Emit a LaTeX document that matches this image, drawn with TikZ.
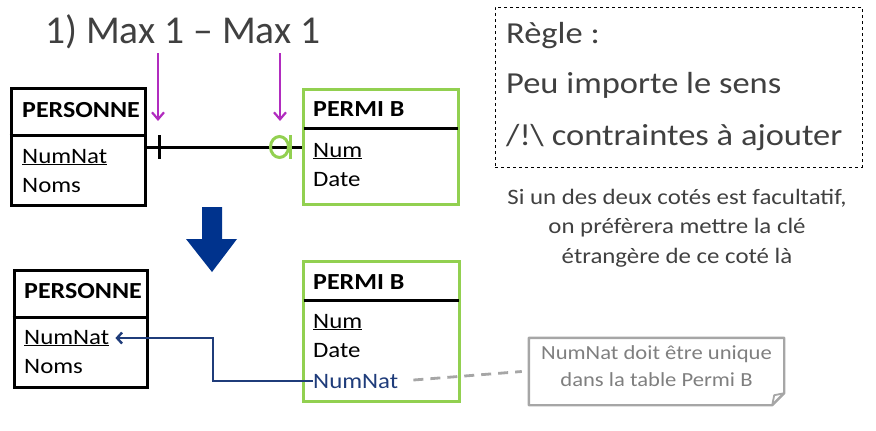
\documentclass[tikz,border=0pt]{standalone}
\usepackage{fontspec}
\setmainfont{Carlito}[FakeStretch=1.13]
\newfontfamily\titlefont{Carlito}
\usetikzlibrary{arrows.meta,calc,positioning}

\definecolor{txtgray}{HTML}{404040}
\definecolor{notegray}{HTML}{A6A6A6}
\definecolor{notetxt}{HTML}{7F7F7F}
\definecolor{limegreen}{HTML}{92D050}
\definecolor{fkblue}{HTML}{1F3C7A}
\definecolor{bigblue}{HTML}{00338D}
\definecolor{pointer}{HTML}{B12CBF}

\tikzset{
  entity/.style={draw, line width=3pt, inner sep=0pt},
  attr/.style={anchor=base west, inner sep=0pt, font=\fontsize{22}{26}\selectfont},
  head/.style={attr, font=\fontsize{23}{26}\selectfont\bfseries},
  link/.style={line width=3pt},
  pointing/.style={pointer, line width=2.2pt, -{Straight Barb[length=7pt,width=12pt,line width=2.2pt]}},
  fk/.style={fkblue, line width=2.6pt, -{Straight Barb[length=5pt,width=11pt,line width=2.4pt]}},
  gloss/.style={anchor=base, inner sep=0pt, txtgray, font=\fontsize{22}{25}\selectfont},
  rule/.style={anchor=base west, inner sep=0pt, txtgray, font=\fontsize{30.5}{34}\selectfont}
}

\begin{document}
\begin{tikzpicture}[x=1pt,y=-1pt]
  \useasboundingbox (0,0) rectangle (876,431);
  % title
  \node[anchor=base west, inner sep=0pt, txtgray, font=\titlefont\fontsize{39.5}{44}\selectfont] (title) at (45,43) {1) Max 1 – Max 1};

  % before
  \node[entity, minimum width=134pt, minimum height=117pt] (pers1) at (78,146.5) {};
  \draw[line width=3pt] (pers1.west |- 0,135) -- (pers1.east |- 0,135);
  \node[head] (pers1h) at (22,117) {PERSONNE};
  \node[attr] (pk1) at (22,163) {\underline{NumNat}};
  \node[attr] (nom1) at (22,192) {Noms};

  \node[entity, draw=limegreen, minimum width=155pt, minimum height=115pt] (permi1) at (380.5,146.5) {};
  \draw[line width=3pt] ([xshift=2pt]permi1.west |- 0,128) -- ([xshift=-2pt]permi1.east |- 0,128);
  \node[head] (permi1h) at (313,116) {PERMI B};
  \node[attr] (num1) at (313,157) {\underline{Num}};
  \node[attr] (date1) at (313,186) {Date};

  \draw[link] (pers1.east |- 0,147) coordinate (l1) -- (permi1.west |- 0,147) coordinate (l2);
  \draw[link] ([xshift=13pt]l1) ++(0,-12) -- ++(0,24);
  \draw[link, limegreen] ([xshift=-11pt]l2) ++(0,-12) -- ++(0,24);
  \draw[link, limegreen] ([xshift=-22pt]l2) circle[x radius=9pt, y radius=10.5pt];

  \coordinate (m1) at (158,53);
  \coordinate (m2) at (280,53);
  \draw[pointing] (m1) -- ++(0,68);
  \draw[pointing] (m2) -- ++(0,68);

  % big arrow
  \fill[bigblue] (202,207) -- (222,207) -- (222,239) -- (237,239) -- (212,272) -- (186,239) -- (202,239) -- cycle;

  % after
  \node[entity, minimum width=133pt, minimum height=117pt] (pers2) at (80.5,328.5) {};
  \draw[line width=3pt] (pers2.west |- 0,317) -- (pers2.east |- 0,317);
  \node[head] (pers2h) at (24,298) {PERSONNE};
  \node[attr] (pk2) at (24,344) {\underline{NumNat}};
  \node[attr] (nom2) at (24,373) {Noms};

  \node[entity, draw=limegreen, minimum width=156pt, minimum height=140pt] (permi2) at (381,331) {};
  \draw[line width=3pt] ([xshift=2pt]permi2.west |- 0,300) -- ([xshift=-2pt]permi2.east |- 0,300);
  \node[head] (permi2h) at (313,289) {PERMI B};
  \node[attr] (num2) at (313,328) {\underline{Num}};
  \node[attr] (date2) at (313,357) {Date};
  \node[attr, text=fkblue] (fk2) at (313,388) {NumNat};

  \draw[fk] (fk2.west) -- ++(-100,0) |- ([xshift=6pt]pk2.east);

  % note
  \node[minimum width=255pt, minimum height=67pt, inner sep=0pt] (note) at (656.5,371.5) {};
  \draw[notegray, line width=2.4pt, line join=round] (note.north west) -- (note.north east) -- ([yshift=12pt]note.south east)
    -- ([xshift=-12pt]note.south east) -- (note.south west) -- cycle;
  \draw[notegray, line width=1.8pt, line join=round] ([yshift=12pt]note.south east) -- ([xshift=-10pt,yshift=10pt]note.south east) -- ([xshift=-12pt]note.south east);
  \node[align=center, inner sep=0pt, notetxt, font=\fontsize{20}{27}\selectfont] (notetext) at ([yshift=5pt]note.center) {NumNat doit être unique\\dans la table Permi B};
  \draw[notegray, line width=2.8pt, dash pattern=on 10pt off 7pt] ([xshift=15pt,yshift=1pt]fk2.east) -- ([xshift=-7pt]note.west);

  % rule
  \node[draw, dashed, line width=0.9pt, minimum width=367pt, minimum height=160pt, inner sep=0pt] (rulebox) at (678.5,87) {};
  \node[rule] (rule1) at (506,43) {Règle :};
  \node[rule] (rule2) at (506,93) {Peu importe le sens};
  \node[rule] (rule3) at (506,145) {/!\textbackslash{} contraintes à ajouter};

  \node[gloss] (gloss1) at (677,204) {Si un des deux cotés est facultatif,};
  \node[gloss] (gloss2) at (677,233) {on préfèrera mettre la clé};
  \node[gloss] (gloss3) at (677,263) {étrangère de ce coté là};
\end{tikzpicture}
\end{document}
